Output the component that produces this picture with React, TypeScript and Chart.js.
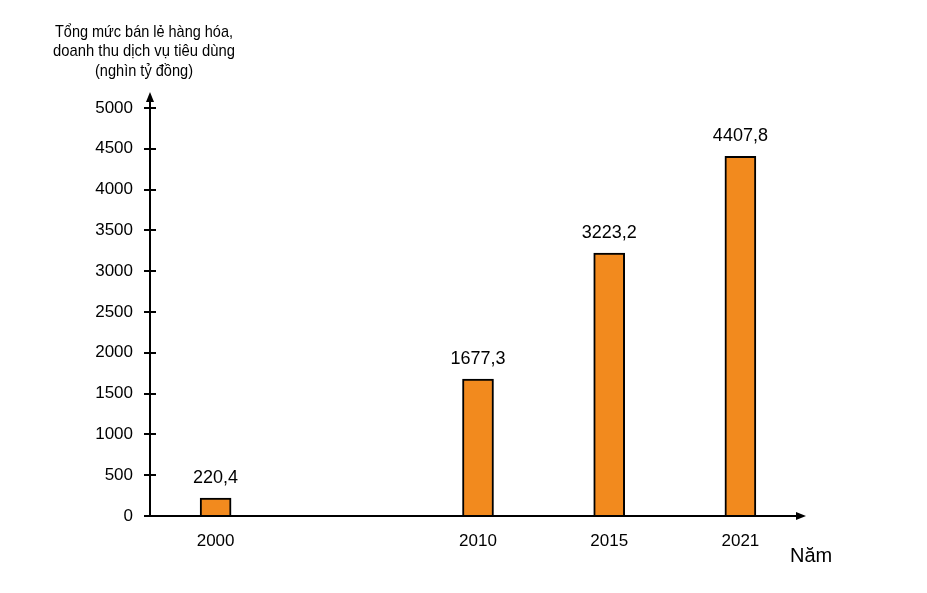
import React, { useEffect, useRef } from "react";
import { Chart, registerables } from "chart.js";

Chart.register(...registerables);

const categories = ["2000", "", "2010", "2015", "2021"];
const values: (number | null)[] = [220.4, null, 1677.3, 3223.2, 4407.8];
const valueLabels = ["220,4", "", "1677,3", "3223,2", "4407,8"];
const yMax = 5000;
const yStep = 500;
const yTitleLines = ["Tổng mức bán lẻ hàng hóa,", "doanh thu dịch vụ tiêu dùng", "(nghìn tỷ đồng)"];
const xTitle = "Năm";

const FONT = "'Liberation Sans', Arial, sans-serif";

const axesPlugin = {
  id: "customAxes",
  afterDatasetsDraw(chart: any) {
    const { ctx, chartArea } = chart;
    const { left, right, top, bottom } = chartArea;
    const yScale = chart.scales.y;
    ctx.save();
    ctx.strokeStyle = "#000";
    ctx.fillStyle = "#000";
    ctx.lineWidth = 2;
    // y axis line
    ctx.beginPath();
    ctx.moveTo(left, bottom);
    ctx.lineTo(left, top - 10);
    ctx.stroke();
    // y arrow
    ctx.beginPath();
    ctx.moveTo(left, top - 16);
    ctx.lineTo(left - 4, top - 6);
    ctx.lineTo(left + 4, top - 6);
    ctx.closePath();
    ctx.fill();
    // x axis line
    ctx.beginPath();
    ctx.moveTo(left - 6, bottom);
    ctx.lineTo(right - 8, bottom);
    ctx.stroke();
    ctx.beginPath();
    ctx.moveTo(right, bottom);
    ctx.lineTo(right - 10, bottom - 4);
    ctx.lineTo(right - 10, bottom + 4);
    ctx.closePath();
    ctx.fill();
    // y ticks crossing
    yScale.ticks.forEach((t: any) => {
      const py = Math.round(yScale.getPixelForValue(t.value));
      ctx.beginPath();
      ctx.moveTo(left - 6, py);
      ctx.lineTo(left + 6, py);
      ctx.stroke();
    });
    // value labels
    const meta = chart.getDatasetMeta(0);
    ctx.font = `18px ${FONT}`;
    ctx.textAlign = "center";
    ctx.textBaseline = "middle";
    meta.data.forEach((el: any, i: number) => {
      if (values[i] == null) return;
      ctx.fillText(valueLabels[i], el.x, el.y - 20);
    });
    // y title
    ctx.font = `17px ${FONT}`;
    const tx = 144;
    const widths = [178, 182, 98];
    const ys = [32, 51, 71];
    yTitleLines.forEach((line, i) => {
      ctx.fillText(line, tx, ys[i], widths[i]);
    });
    // x title
    ctx.font = `20px ${FONT}`;
    ctx.textAlign = "left";
    ctx.fillText(xTitle, 790, 556);
    ctx.restore();
  },
};

export default function App() {
  const ref = useRef<HTMLCanvasElement>(null);
  useEffect(() => {
    if (!ref.current) return;
    const chart = new Chart(ref.current, {
      type: "bar",
      data: {
        labels: categories,
        datasets: [
          {
            data: values,
            backgroundColor: "#F28A1E",
            borderColor: "#000",
            borderWidth: 2,
            barThickness: 31,
          },
        ],
      },
      options: {
        animation: false,
        responsive: true,
        maintainAspectRatio: false,
        layout: { padding: { top: 108, right: 121, left: 0, bottom: 0 } },
        plugins: { legend: { display: false }, tooltip: { enabled: false } },
        scales: {
          x: {
            grid: { display: false, drawTicks: false },
            border: { display: false },
            ticks: {
              color: "#000",
              font: { size: 17, family: FONT },
              padding: 15,
              maxRotation: 0,
              autoSkip: false,
            },
            afterFit: (s: any) => {
              s.height = 77;
            },
          },
          y: {
            min: 0,
            max: yMax,
            grid: { display: false, drawTicks: false },
            border: { display: false },
            ticks: {
              stepSize: yStep,
              color: "#000",
              font: { size: 17, family: FONT },
              padding: 17,
              callback: (v: any) => String(v),
            },
            afterFit: (s: any) => {
              s.width = 150;
            },
          },
        },
      },
      plugins: [axesPlugin],
    });
    return () => chart.destroy();
  }, []);
  return (
    <div style={{ position: "absolute", left: 0, top: 0, width: 927, height: 593, background: "#fff" }}>
      <canvas ref={ref} />
    </div>
  );
}
